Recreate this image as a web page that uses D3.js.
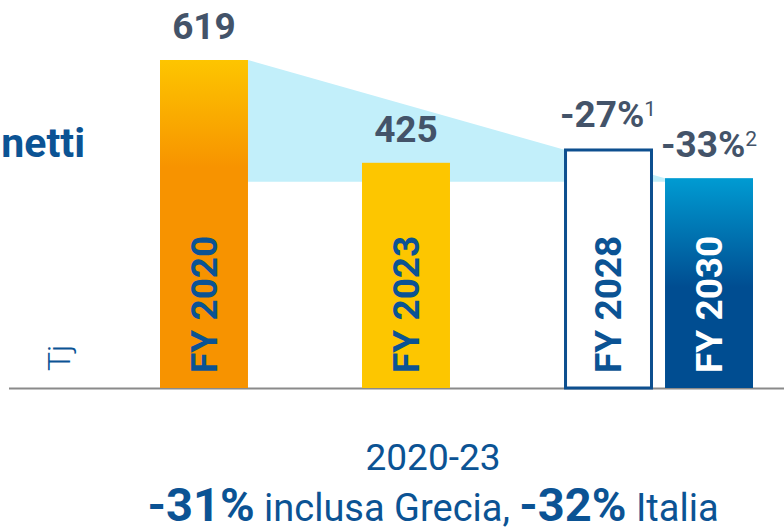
<!DOCTYPE html>
<html>
<head>
<meta charset="utf-8">
<script src="https://cdn.jsdelivr.net/npm/d3@7"></script>
<style>
body{margin:0;background:#fff;}
text{font-family:Roboto,"Noto Sans",sans-serif;}
</style>
</head>
<body>
<script>
// dati
var categories = ["FY 2020","FY 2023","FY 2028","FY 2030"];
var values = [619, 425, 452, 396];
var valueLabels = ["619","425","-27%","-33%"];
var footnotes = ["","","1","2"];
var bandValues = [619, 396, 389]; // banda azzurra: inizio, fine, fondo
var unitLabel = "Tj";
var titleTail = "netti";
var periodLabel = "2020-23";
var summary = [["-31%",true],[" inclusa Grecia, ",false],["-32%",true],[" Italia",false]];

var W = 784, H = 530;
var blue = "#0b5394", grey = "#435369";

var svg = d3.select("body").append("svg")
	.attr("width", W).attr("height", H);

// slot vuoti per avere la spaziatura del grafico originale
var slots = [categories[0],"_a",categories[1],"_b",categories[2],categories[3]];
var x = d3.scaleBand().domain(slots).range([160, 753]).paddingInner(0.129).paddingOuter(0);
var y = d3.scaleLinear().domain([0, 619]).range([388, 60]);
var bw = x.bandwidth();

// gradienti
var defs = svg.append("defs");
var g1 = defs.append("linearGradient").attr("id","gOrange")
	.attr("gradientUnits","userSpaceOnUse")
	.attr("x1",0).attr("x2",0).attr("y1",y(values[0])).attr("y2",y(0));
g1.append("stop").attr("offset","0").attr("stop-color","#fdc500");
g1.append("stop").attr("offset","0.33").attr("stop-color","#f79300");
g1.append("stop").attr("offset","1").attr("stop-color","#f79300");
var g2 = defs.append("linearGradient").attr("id","gBlue")
	.attr("gradientUnits","userSpaceOnUse")
	.attr("x1",0).attr("x2",0).attr("y1",y(values[3])).attr("y2",y(0));
g2.append("stop").attr("offset","0").attr("stop-color","#009bd2");
g2.append("stop").attr("offset","0.52").attr("stop-color","#004d91");
g2.append("stop").attr("offset","1").attr("stop-color","#004d91");

// banda azzurra dietro le barre
var bx0 = x(categories[0]) + bw, bx1 = x(categories[3]);
svg.append("path")
	.attr("d", d3.line()([[bx0, y(bandValues[0])],[bx1, y(bandValues[1])],[bx1, y(bandValues[2])],[bx0, y(bandValues[2])]]) + "Z")
	.attr("fill","#c2effa");

// linea di base
svg.append("line")
	.attr("x1",9).attr("x2",W).attr("y1",y(0)+0.5).attr("y2",y(0)+0.5)
	.attr("stroke","#8a8a8a").attr("stroke-width",2);

// barre
var fills = ["url(#gOrange)","#fdc600","#fff","url(#gBlue)"];
categories.forEach(function(c, i){
	var r = svg.append("rect")
		.attr("x", x(c)).attr("width", bw)
		.attr("y", y(values[i])).attr("height", y(0) - y(values[i]))
		.attr("fill", fills[i]);
	if(i == 2){
		r.attr("x", x(c)+1.5).attr("width", bw-2)
		 .attr("y", y(values[i])+1.5).attr("height", y(0)-y(values[i])-1.5)
		 .attr("stroke","#0d4f8f").attr("stroke-width",3);
	}
	// etichetta verticale
	var cx = x(c) + bw/2;
	svg.append("text")
		.attr("transform","translate(" + (cx+13) + "," + (y(0)-15) + ") rotate(-90)")
		.attr("font-size",37).attr("font-weight",700)
		.attr("fill", i == 3 ? "#fff" : blue)
		.text(c);
	// valore sopra la barra
	var t = svg.append("text")
		.attr("x", cx).attr("y", y(values[i]) - 21)
		.attr("text-anchor","middle")
		.attr("font-size",37).attr("font-weight",700).attr("fill",grey)
		.text(valueLabels[i]);
	if(footnotes[i] != ""){
		t.append("tspan").attr("font-size",21).attr("font-weight",400)
		 .attr("dy",-11).text(footnotes[i]);
	}
});

// testo a sinistra (tagliato)
svg.append("text")
	.attr("x",85).attr("y",157).attr("text-anchor","end")
	.attr("font-size",41).attr("font-weight",700).attr("fill",blue)
	.text(titleTail);
svg.append("text")
	.attr("transform","translate(70,371) rotate(-90)")
	.attr("font-size",32).attr("font-weight",300).attr("fill",blue)
	.text(unitLabel);

// testo in basso
svg.append("text")
	.attr("x",433).attr("y",470).attr("text-anchor","middle")
	.attr("font-size",37).attr("fill",blue)
	.text(periodLabel);
var s = svg.append("text")
	.attr("x",433).attr("y",521).attr("text-anchor","middle")
	.attr("fill",blue).attr("xml:space","preserve");
summary.forEach(function(p){
	s.append("tspan")
		.attr("font-size", p[1] ? 47 : 38)
		.attr("font-weight", p[1] ? 700 : 400)
		.text(p[0]);
});
</script>
</body>
</html>
